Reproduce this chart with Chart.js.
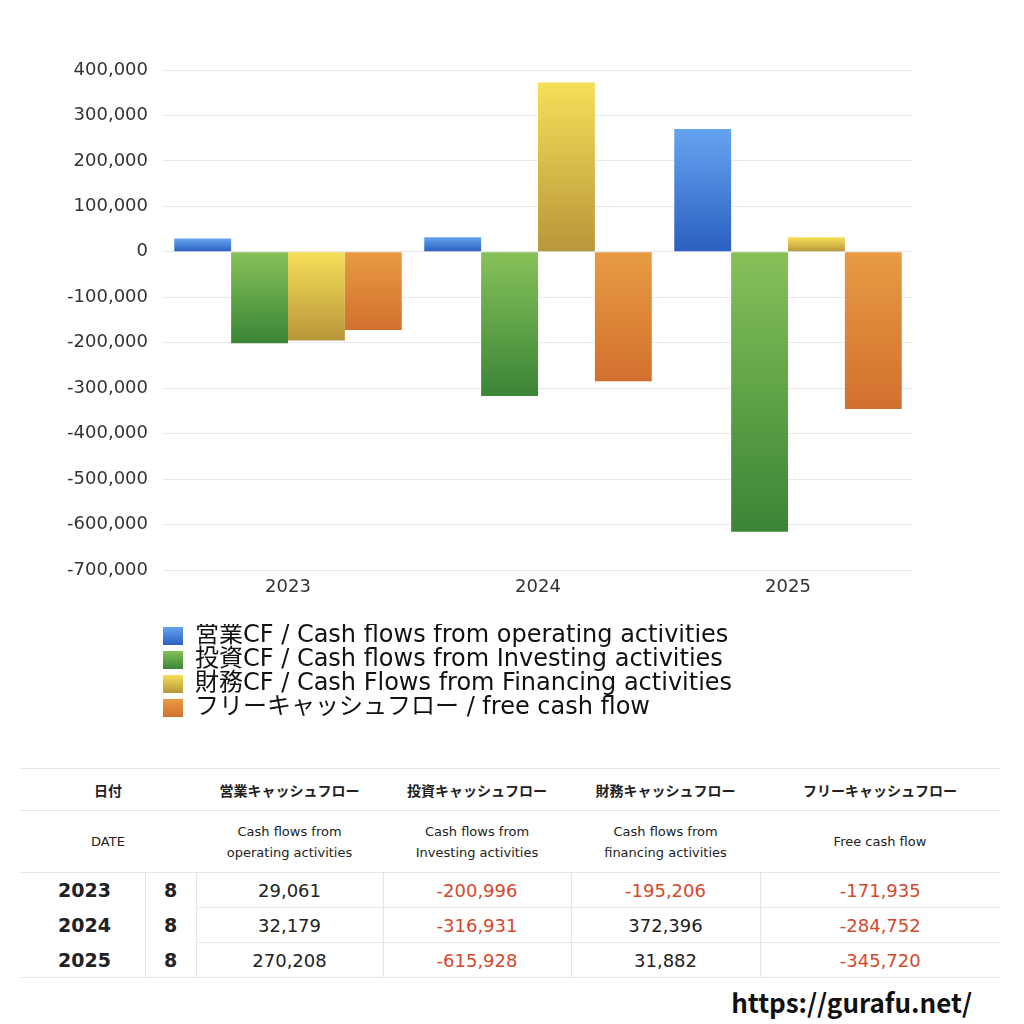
<!DOCTYPE html>
<html lang="ja">
  <head>
    <meta charset="utf-8">
    <title>Cash flow chart</title>
    <script src="https://cdn.jsdelivr.net/npm/chart.js@4.4.1/dist/chart.umd.min.js"></script>
    <style>
      body { margin: 0; background: #fff; font-family: "DejaVu Sans", "Noto Sans CJK JP", sans-serif; color: #222; }
      #chart { position: absolute; left: 0; top: 0; width: 1024px; height: 740px; }
      table { position: absolute; left: 20px; top: 768px; width: 980px; border-collapse: collapse; table-layout: fixed; }
      td, th { padding: 0; text-align: center; }
      .h1 th { height: 41px; font-size: 14px; font-weight: bold; font-family: "Noto Sans CJK JP", sans-serif; border-top: 1px solid #e6e6e6; border-bottom: 1px solid #e6e6e6; }
      .h2 th { height: 61px; font-size: 13px; font-weight: normal; line-height: 21px; border-bottom: 1px solid #e6e6e6; }
      .d td { height: 34px; font-size: 18px; border-left: 1px solid #e6e6e6; border-bottom: 1px solid #e6e6e6; }
      .d td.yr { font-size: 19px; font-weight: bold; text-align: left; padding-left: 38px; border-left: none; border-bottom: none; }
      .d td.m { font-size: 19px; font-weight: bold; border-bottom: none; }
      .d.last td { border-bottom: 1px solid #e6e6e6; }
      .neg { color: #d4482c; }
      #url { position: absolute; right: 52px; top: 983px; font-size: 26px; font-weight: bold; color: #111; font-family: "Noto Sans CJK JP", sans-serif; }
    </style>
  </head>
  <body>
    <div id="chart"><canvas id="chartCanvas"></canvas></div>
    <table id="tbl">
      <colgroup><col style="width:125px"><col style="width:51px"><col style="width:187px"><col style="width:188px"><col style="width:189px"><col style="width:240px"></colgroup>
    </table>
    <div id="url">https://gurafu.net/</div>
    <script>
      // values
      const years = ['2023', '2024', '2025'];
      const months = [8, 8, 8];
      const operating = [29061, 32179, 270208];
      const investing = [-200996, -316931, -615928];
      const financing = [-195206, 372396, 31882];
      const freeCF = [-171935, -284752, -345720];

      const legendNames = [
        '営業CF / Cash flows from operating activities',
        '投資CF / Cash flows from Investing activities',
        '財務CF / Cash Flows from Financing activities',
        'フリーキャッシュフロー / free cash flow'
      ];
      const headJa = ['営業キャッシュフロー', '投資キャッシュフロー', '財務キャッシュフロー', 'フリーキャッシュフロー'];
      const headEn = ['Cash flows from<br>operating activities', 'Cash flows from<br>Investing activities',
                      'Cash flows from<br>financing activities', 'Free cash flow'];

      // top / bottom colour of each bar's gradient
      const shades = [
        ['#65a4ef', '#2b5fc1'],
        ['#87c159', '#3a8536'],
        ['#f5df58', '#b8963a'],
        ['#e89b43', '#d1702e']
      ];
      const mids = ['#4a84d9', '#5fa247', '#d8bd48', '#dd853a'];

      function grad(ctx, i, top, bottom) {
        const g = ctx.createLinearGradient(0, top, 0, bottom + 0.01);
        g.addColorStop(0, shades[i][0]);
        g.addColorStop(1, shades[i][1]);
        return g;
      }

      function barFill(i) {
        return function (c) {
          const ch = c.chart;
          if (c.type !== 'data' || !ch.chartArea) return mids[i];
          const y = ch.scales.y;
          const a = y.getPixelForValue(c.raw), b = y.getPixelForValue(0);
          return grad(ch.ctx, i, Math.min(a, b), Math.max(a, b));
        };
      }

      const boxW = 20, boxH = 18, legendSize = 24;

      // repaint legend squares with the same gradient as the bars
      const legendBoxes = {
        id: 'legendBoxes',
        afterDraw(chart) {
          const lg = chart.legend;
          if (!lg || !lg.legendHitBoxes) return;
          const ctx = chart.ctx;
          lg.legendHitBoxes.forEach((hb, i) => {
            const top = hb.top + (legendSize - boxH) / 2;
            ctx.save();
            ctx.fillStyle = grad(ctx, i, top, top + boxH);
            ctx.fillRect(hb.left, top, boxW, boxH);
            ctx.restore();
          });
        }
      };

      const font = '"DejaVu Sans", "Noto Sans CJK JP", sans-serif';
      const series = [operating, investing, financing, freeCF];

      const chart = new Chart(document.getElementById('chartCanvas'), {
        type: 'bar',
        data: {
          labels: years,
          datasets: series.map((d, i) => ({
            label: legendNames[i],
            data: d,
            backgroundColor: barFill(i),
            borderWidth: 0,
            barPercentage: 1,
            categoryPercentage: 0.91
          }))
        },
        options: {
          responsive: true,
          maintainAspectRatio: false,
          animation: false,
          layout: { padding: { top: 70, right: 111, left: 0, bottom: 10 } },
          scales: {
            x: {
              grid: { display: false, drawTicks: false },
              border: { display: false },
              ticks: { color: '#333', font: { family: font, size: 18 }, padding: 7 },
              afterFit: s => { s.height = 54; }
            },
            y: {
              min: -700000,
              max: 400000,
              grid: { color: '#e8e8e8', drawTicks: false },
              border: { display: false },
              ticks: {
                stepSize: 100000,
                color: '#333',
                padding: 15,
                font: { family: font, size: 18 },
                callback: v => v.toLocaleString('en-US')
              },
              afterFit: s => { s.width = 163; }
            }
          },
          plugins: {
            tooltip: { enabled: false },
            legend: {
              position: 'bottom',
              align: 'start',
              fullSize: false,
              labels: {
                boxWidth: boxW,
                boxHeight: boxH,
                padding: 0,
                color: '#111',
                font: { family: font, size: legendSize }
              }
            }
          }
        },
        plugins: [legendBoxes]
      });

      // table
      let html = '<tr class="h1"><th colspan="2">日付</th>' + headJa.map(t => '<th>' + t + '</th>').join('') + '</tr>';
      html += '<tr class="h2"><th colspan="2">DATE</th>' + headEn.map(t => '<th>' + t + '</th>').join('') + '</tr>';
      years.forEach((yr, r) => {
        html += '<tr class="d' + (r === years.length - 1 ? ' last' : '') + '"><td class="yr">' + yr + '</td><td class="m">' + months[r] + '</td>';
        series.forEach(s => {
          const v = s[r];
          html += '<td' + (v < 0 ? ' class="neg"' : '') + '>' + v.toLocaleString('en-US') + '</td>';
        });
        html += '</tr>';
      });
      document.getElementById('tbl').insertAdjacentHTML('beforeend', html);
    </script>
  </body>
</html>
